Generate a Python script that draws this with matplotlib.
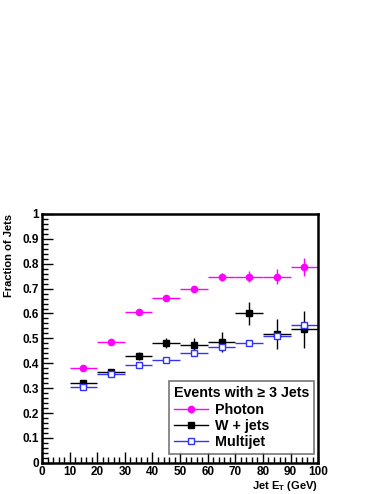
import numpy as np
import matplotlib
matplotlib.use("Agg")
import matplotlib.pyplot as plt
from matplotlib.ticker import MultipleLocator
from matplotlib.lines import Line2D

plt.rcParams['font.family'] = ['Liberation Sans', 'DejaVu Sans']
plt.rcParams['font.weight'] = 'bold'
plt.rcParams['mathtext.fontset'] = 'custom'
plt.rcParams['mathtext.rm'] = 'Liberation Sans:bold'
plt.rcParams['mathtext.bf'] = 'Liberation Sans:bold'
plt.rcParams['mathtext.it'] = 'Liberation Sans:bold'

# bin centres and half-widths (GeV)
jet_et = [15, 25, 35, 45, 55, 65, 75, 85, 95]
bin_half = [5] * 9

photon = [0.380, 0.485, 0.605, 0.662, 0.698, 0.747, 0.748, 0.747, 0.786]
photon_err = [0.005, 0.006, 0.007, 0.007, 0.008, 0.017, 0.022, 0.030, 0.036]

wjets = [0.320, 0.365, 0.430, 0.480, 0.475, 0.487, 0.600, 0.518, 0.537]
wjets_err = [0.010, 0.012, 0.015, 0.020, 0.025, 0.040, 0.048, 0.060, 0.075]

multijet = [0.305, 0.357, 0.392, 0.415, 0.440, 0.465, 0.480, 0.510, 0.552]
multijet_err = [0.004, 0.004, 0.004, 0.004, 0.005, 0.006, 0.007, 0.008, 0.010]

fig = plt.figure(figsize=(3.82, 4.94), dpi=100)
ax = fig.add_axes([0.110, 0.063, 0.723, 0.504])

ax.errorbar(jet_et, photon, xerr=bin_half, yerr=photon_err, fmt='o',
            color='#ff00ff', ms=4.5, lw=1.0, capsize=0)
ax.errorbar(jet_et, wjets, xerr=bin_half, yerr=wjets_err, fmt='s',
            color='black', ms=4.5, lw=1.0, capsize=0)
ax.errorbar(jet_et, multijet, xerr=bin_half, yerr=multijet_err, fmt='s',
            color='#3333ff', mfc='white', mec='#3333ff', mew=1.0, ms=5,
            lw=1.0, capsize=0)

ax.set_xlim(0, 100)
ax.set_ylim(0, 1)
ax.xaxis.set_major_locator(MultipleLocator(10))
ax.xaxis.set_minor_locator(MultipleLocator(2))
ax.yaxis.set_minor_locator(MultipleLocator(0.02))
ax.set_yticks(np.arange(0, 1.01, 0.1))
ax.set_yticklabels(['0', '0.1', '0.2', '0.3', '0.4', '0.5', '0.6', '0.7', '0.8', '0.9', '1'])
ax.tick_params(which='both', direction='in', top=False, right=False,
               labelsize=8.5, width=1.0, pad=2)
ax.tick_params(which='major', length=8)
ax.tick_params(which='minor', length=4)
for lab in ax.get_xticklabels() + ax.get_yticklabels():
    lab.set_fontweight('bold')
for sp in ax.spines.values():
    sp.set_linewidth(1.8)

ax.set_xlabel('Jet E$_{T}$ (GeV)', fontsize=8, fontweight='bold', loc='right', labelpad=1)
ax.set_ylabel('Fraction of Jets', fontsize=8, fontweight='bold', loc='top', labelpad=6)

handles = [
    Line2D([], [], color='#ff00ff', marker='o', ms=4.5, lw=1.0),
    Line2D([], [], color='black', marker='s', ms=4.5, lw=1.0),
    Line2D([], [], color='#3333ff', marker='s', mfc='white', mec='#3333ff', ms=5, lw=1.0),
]
labels = ['Photon', 'W + jets', 'Multijet']
leg = ax.legend(handles, labels, loc='lower right', bbox_to_anchor=(0.986, 0.036),
                borderaxespad=0, fontsize=10.3,
                title='Events with \u2265 3 Jets', title_fontproperties={'size': 10.3, 'weight': 'bold'},
                frameon=True, fancybox=False, edgecolor='#555555',
                handlelength=2.4, borderpad=0.35, labelspacing=0.15, handletextpad=0.5,
                alignment='left')
leg.get_frame().set_linewidth(1.2)
for t in leg.get_texts():
    t.set_fontweight('bold')

fig.savefig('out.png', dpi=100)
